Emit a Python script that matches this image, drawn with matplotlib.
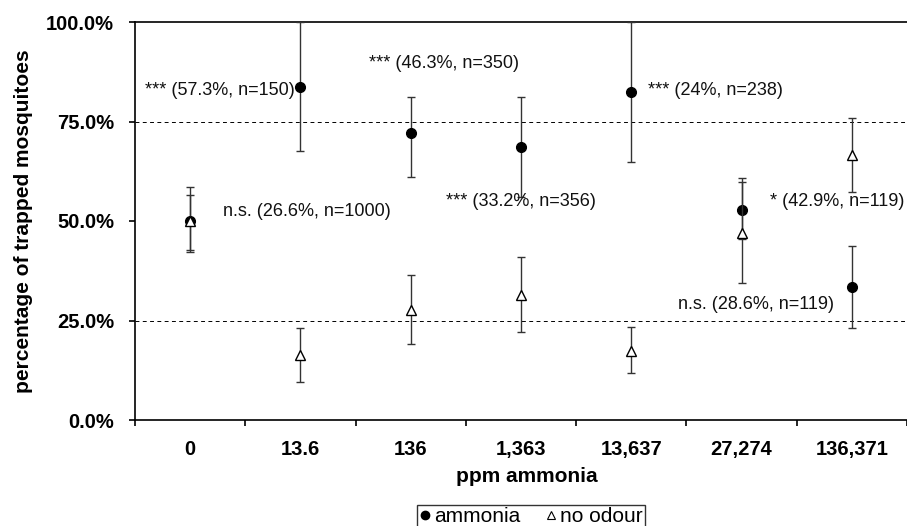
import matplotlib
matplotlib.use("Agg")
import matplotlib.pyplot as plt
from matplotlib.lines import Line2D
import numpy as np

plt.rcParams['font.family'] = ['Liberation Sans', 'DejaVu Sans']

categories = ["0", "13.6", "136", "1,363", "13,637", "27,274", "136,371"]

ammonia = [50.0, 83.7, 72.2, 68.7, 82.5, 52.8, 33.5]
ammonia_hi = [56.5, 100.0, 81.2, 81.2, 100.0, 60.7, 43.7]
ammonia_lo = [42.7, 67.6, 61.1, 56.0, 64.9, 45.4, 23.0]

no_odour = [50.0, 16.3, 27.6, 31.4, 17.4, 47.1, 66.6]
no_odour_hi = [58.6, 23.0, 36.4, 40.9, 23.4, 59.9, 76.0]
no_odour_lo = [42.3, 9.6, 19.1, 22.0, 11.7, 34.5, 57.4]

y_ticks = [0, 25, 50, 75, 100]
y_tick_labels = ["0.0%", "25.0%", "50.0%", "75.0%", "100.0%"]

annotations = ["*** (57.3%, n=150)", "*** (46.3%, n=350)", "n.s. (26.6%, n=1000)",
               "*** (33.2%, n=356)", "*** (24%, n=238)", "* (42.9%, n=119)",
               "n.s. (28.6%, n=119)"]
# layout of the annotations (x in category units, y in %, alignment)
ann_layout = [(0.95, 82.9, 'right'), (1.62, 89.6, 'left'), (0.30, 52.3, 'left'),
              (3.68, 54.8, 'right'), (4.15, 82.9, 'left'), (5.26, 54.8, 'left'),
              (4.42, 28.9, 'left')]

W, H = 907, 526
fig = plt.figure(figsize=(W / 100, H / 100), dpi=100)
ax = fig.add_axes([135 / W, 106 / H, (907 - 135) / W, 398 / H])

x = np.arange(len(categories))
ecol = '#333333'

am = np.array(ammonia)
ax.errorbar(x, am, yerr=[am - np.array(ammonia_lo), np.array(ammonia_hi) - am],
            fmt='o', color='black', markersize=7, ecolor=ecol, elinewidth=1.0,
            capsize=3.2, capthick=1.0, zorder=3)
no = np.array(no_odour)
ax.errorbar(x, no, yerr=[no - np.array(no_odour_lo), np.array(no_odour_hi) - no],
            fmt='^', color='black', markerfacecolor='white', markeredgecolor='black',
            markeredgewidth=1.0, markersize=7, ecolor=ecol, elinewidth=1.0,
            capsize=3.2, capthick=1.0, zorder=4)

for yv in (25, 75):
    ax.axhline(yv, color='black', lw=0.7, linestyle=(0, (4, 3.5)), zorder=1)

ax.set_xlim(-0.5, len(categories) - 0.5)
ax.set_ylim(0, 100)

ax.set_yticks(y_ticks)
ax.set_yticklabels(y_tick_labels, fontsize=14.5, fontweight='bold')
ax.tick_params(axis='y', direction='out', length=4, width=1.2, pad=11)

ax.set_xticks(x)
ax.set_xticklabels(categories, fontsize=14.5, fontweight='bold')
ax.set_xticks(np.arange(-0.5, len(categories) + 0.5, 1.0), minor=True)
ax.tick_params(axis='x', which='major', length=0, pad=14.5)
ax.tick_params(axis='x', which='minor', direction='out', length=4, width=1.2)

for s in ('left', 'bottom', 'top'):
    ax.spines[s].set_linewidth(1.2)
    ax.spines[s].set_color('black')
ax.spines['right'].set_visible(False)

for txt, (tx, ty, ha) in zip(annotations, ann_layout):
    ax.text(tx, ty, txt, ha=ha, va='center', fontsize=13, color='#111111')

fig.text(24 / W, 1 - 221 / H, "percentage of trapped mosquitoes", rotation=90,
         ha='center', va='center', fontsize=15, fontweight='bold')
fig.text(527 / W, 1 - 477 / H, "ppm ammonia", ha='center', va='center',
         fontsize=15, fontweight='bold')

handles = [Line2D([], [], marker='o', linestyle='none', color='black', markersize=6),
           Line2D([], [], marker='^', linestyle='none', markerfacecolor='white',
                  markeredgecolor='black', markersize=6, markeredgewidth=0.8)]
leg = fig.legend(handles, ["ammonia", "no odour"], ncol=2, loc='upper center',
                 bbox_to_anchor=(531 / W, 1 - 505 / H), fontsize=15, frameon=True,
                 fancybox=False, edgecolor='black', borderpad=0.1, handlelength=0.5,
                 handletextpad=0.2, columnspacing=1.2, borderaxespad=0)
leg.get_frame().set_linewidth(1.0)

fig.savefig("out.png", dpi=100)
